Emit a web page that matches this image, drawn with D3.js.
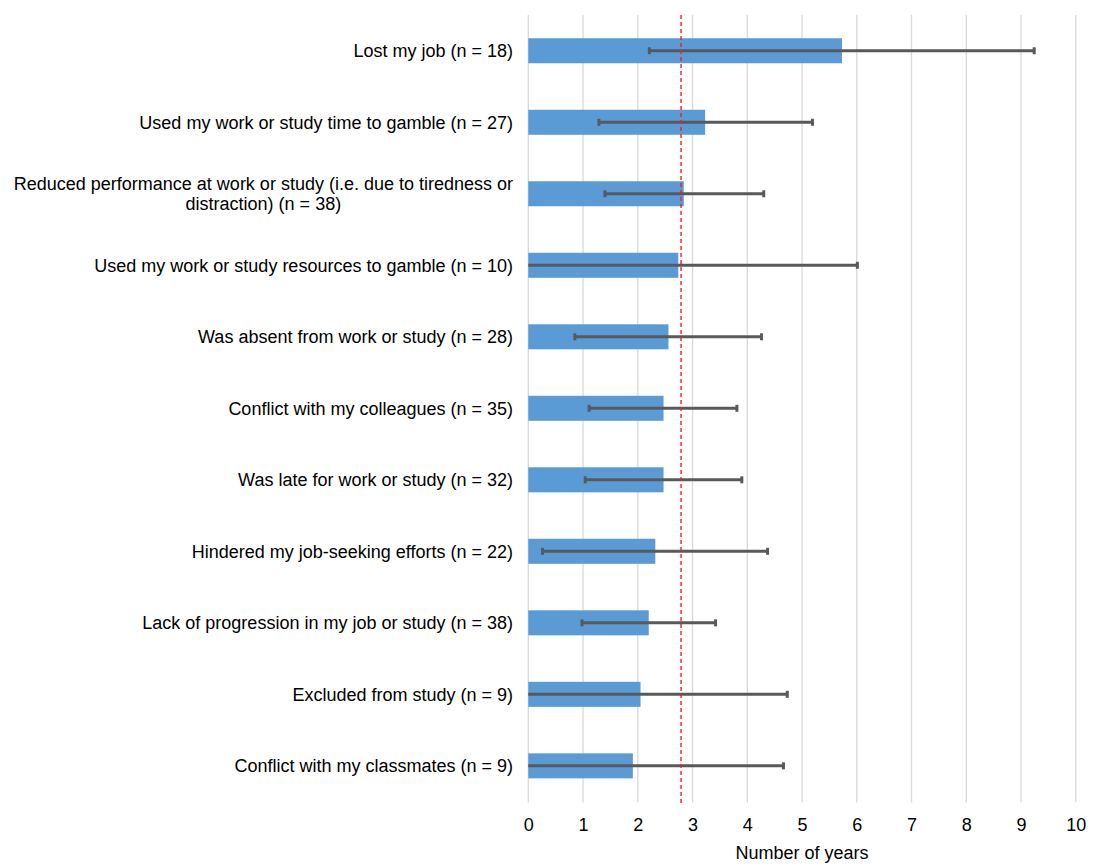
<!DOCTYPE html>
<html>
<head>
<meta charset="utf-8">
<script src="https://cdn.jsdelivr.net/npm/d3@7"></script>
<style>
  html, body { margin: 0; padding: 0; background: #fff; }
  svg { display: block; font-family: "Liberation Sans", Arial, Helvetica, sans-serif; }
</style>
</head>
<body>
<svg id="chart" width="1097" height="866"></svg>
<script>
const categories = [
  "Lost my job (n = 18)",
  "Used my work or study time to gamble (n = 27)",
  "Reduced performance at work or study (i.e. due to tiredness or|distraction) (n = 38)",
  "Used my work or study resources to gamble (n = 10)",
  "Was absent from work or study (n = 28)",
  "Conflict with my colleagues (n = 35)",
  "Was late for work or study (n = 32)",
  "Hindered my job-seeking efforts (n = 22)",
  "Lack of progression in my job or study (n = 38)",
  "Excluded from study (n = 9)",
  "Conflict with my classmates (n = 9)"
];
const means = [5.73, 3.23, 2.84, 2.74, 2.56, 2.47, 2.47, 2.32, 2.20, 2.05, 1.91];
const lowers = [2.21, 1.29, 1.40, 0, 0.85, 1.11, 1.04, 0.26, 0.98, 0, 0];
const uppers = [9.24, 5.19, 4.30, 6.01, 4.26, 3.81, 3.90, 4.37, 3.42, 4.73, 4.66];
const overallMean = 2.79;
const xTicks = [0, 1, 2, 3, 4, 5, 6, 7, 8, 9, 10];
const xTitle = "Number of years";

(function () {
const svg = d3.select("#chart");
const pLeft = 528.3, pRight = 1075.8, pTop = 15, pBottom = 801.6;
const fs = 18;

const x = d3.scaleLinear().domain([0, 10]).range([pLeft, pRight]);
const y = d3.scaleBand().domain(categories).range([pTop, pBottom]).paddingInner(0.65).paddingOuter(0.325);

// gridlines
svg.append("g").selectAll("line").data(xTicks).join("line")
  .attr("x1", d => x(d)).attr("x2", d => x(d))
  .attr("y1", pTop).attr("y2", pBottom + 1)
  .attr("stroke", "#d9d9d9").attr("stroke-width", 1.3);

// bars
svg.append("g").selectAll("rect").data(categories).join("rect")
  .attr("x", x(0))
  .attr("y", d => y(d))
  .attr("width", (d, i) => x(means[i]) - x(0))
  .attr("height", y.bandwidth())
  .attr("fill", "#5b9bd5");

// error bars
const eb = svg.append("g");
categories.forEach((c, i) => {
  const cy = y(c) + y.bandwidth() / 2;
  eb.append("line")
    .attr("x1", x(lowers[i])).attr("x2", x(uppers[i]))
    .attr("y1", cy).attr("y2", cy)
    .attr("stroke", "#595959").attr("stroke-width", 3);
  [lowers[i], uppers[i]].forEach(v => {
    if (v > 0) {
      eb.append("rect")
        .attr("x", x(v) - 1.5).attr("y", cy - 3.5)
        .attr("width", 3).attr("height", 7)
        .attr("fill", "#595959");
    }
  });
});

// mean line
svg.append("line")
  .attr("x1", x(overallMean)).attr("x2", x(overallMean))
  .attr("y1", pTop).attr("y2", pBottom + 2)
  .attr("stroke", "#ff1a1a").attr("stroke-width", 1.4)
  .attr("stroke-dasharray", "4,3");

// x axis tick labels
const xAxis = d3.axisBottom(x).tickValues(xTicks).tickSize(0).tickPadding(0).tickFormat(d3.format("d"));
const gx = svg.append("g").attr("transform", `translate(0,${pBottom})`).call(xAxis);
gx.select(".domain").remove();
gx.selectAll("text").attr("y", 17).attr("dy", "0.71em")
  .attr("font-size", fs).attr("fill", "#000")
  .attr("font-family", "Liberation Sans, Arial, sans-serif");

svg.append("text")
  .attr("x", (pLeft + pRight) / 2).attr("y", 859)
  .attr("text-anchor", "middle").attr("font-size", fs).attr("fill", "#000")
  .text(xTitle);

// category labels
const labelX = 513;
const gl = svg.append("g");
categories.forEach(c => {
  const cy = y(c) + y.bandwidth() / 2;
  const lines = c.split("|");
  if (lines.length === 1) {
    gl.append("text")
      .attr("x", labelX).attr("y", cy).attr("dy", "0.35em")
      .attr("text-anchor", "end").attr("font-size", fs).attr("fill", "#000")
      .text(c);
  } else {
    const lh = 20.5;
    const t0 = gl.append("text")
      .attr("x", labelX).attr("y", cy - lh / 2).attr("dy", "0.35em")
      .attr("text-anchor", "end").attr("font-size", fs).attr("fill", "#000")
      .text(lines[0]);
    const w = t0.node().getComputedTextLength();
    lines.slice(1).forEach((ln, k) => {
      gl.append("text")
        .attr("x", labelX - w / 2).attr("y", cy - lh / 2 + lh * (k + 1)).attr("dy", "0.35em")
        .attr("text-anchor", "middle").attr("font-size", fs).attr("fill", "#000")
        .text(ln);
    });
  }
});
})();
</script>
</body>
</html>
